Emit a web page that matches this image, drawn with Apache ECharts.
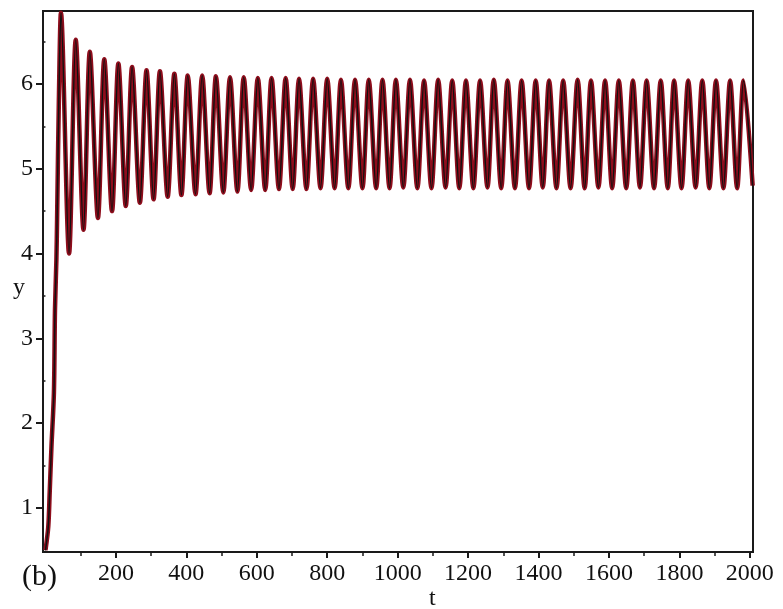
<!DOCTYPE html>
<html>
<head>
<meta charset="utf-8">
<script src="https://cdn.jsdelivr.net/npm/echarts@6/dist/echarts.min.js"></script>
<style>
html, body { margin: 0; padding: 0; background: #fff; }
#chart { width: 783px; height: 609px; }
</style>
</head>
<body>
<div id="chart"></div>
<script>
// start-up transient (t, y)
const riseT = [0, 8, 12, 17, 24, 27, 31, 33, 38];
const riseY = [0.5, 0.78, 1.18, 1.72, 2.36, 3.33, 3.92, 4.4, 5.8];

// peaks of the oscillation
const peakT = [44, 86, 126, 167, 207, 246, 287, 325, 366, 404, 445, 484, 524, 563, 603, 642, 682, 720, 760, 800,
	839, 879, 918, 957, 995, 1035, 1075, 1115, 1155, 1194, 1234, 1273, 1312, 1352, 1392, 1430, 1470, 1511, 1549, 1589,
	1628, 1668, 1707, 1747, 1785, 1825, 1865, 1904, 1944, 1982];
const peakY = [6.84, 6.52, 6.38, 6.29, 6.24, 6.2, 6.16, 6.15, 6.12, 6.1, 6.1, 6.09, 6.08, 6.08, 6.07, 6.07, 6.07, 6.06, 6.06, 6.06,
	6.05, 6.05, 6.05, 6.05, 6.05, 6.05, 6.04, 6.05, 6.04, 6.04, 6.04, 6.05, 6.04, 6.04, 6.04, 6.04, 6.04, 6.05, 6.04, 6.04,
	6.04, 6.04, 6.04, 6.04, 6.04, 6.04, 6.04, 6.04, 6.04, 6.04];

// troughs between peaks
const troughT = [67, 108, 149, 189, 228, 268, 307, 347, 386, 426, 466, 505, 545, 584, 624, 663, 702, 741, 781, 821,
	860, 900, 939, 977, 1016, 1056, 1096, 1136, 1175, 1215, 1255, 1294, 1333, 1373, 1412, 1451, 1491, 1531, 1570, 1609,
	1649, 1688, 1728, 1767, 1806, 1846, 1885, 1925, 1964];
const troughY = [4.0, 4.28, 4.42, 4.5, 4.56, 4.6, 4.64, 4.67, 4.69, 4.7, 4.71, 4.72, 4.73, 4.75, 4.75, 4.76, 4.76, 4.76, 4.77, 4.77,
	4.77, 4.77, 4.77, 4.77, 4.78, 4.77, 4.77, 4.78, 4.77, 4.77, 4.78, 4.77, 4.77, 4.77, 4.78, 4.77, 4.77, 4.77, 4.78, 4.77,
	4.77, 4.78, 4.77, 4.77, 4.77, 4.78, 4.77, 4.77, 4.77];

const endPoint = [2008, 4.8];

const xLabels = [200, 400, 600, 800, 1000, 1200, 1400, 1600, 1800, 2000];
const xMinor = [100, 300, 500, 700, 900, 1100, 1300, 1500, 1700, 1900];
const yLabels = [1, 2, 3, 4, 5, 6];
const yMinor = [1.5, 2.5, 3.5, 4.5, 5.5, 6.5];

const points = riseT.map((t, i) => [t, riseY[i]]);
peakT.forEach((t, i) => {
	points.push([t, peakY[i]]);
	if (i < troughT.length) points.push([troughT[i], troughY[i]]);
});
points.push(endPoint);

const serif = '"Liberation Serif", "Times New Roman", serif';
const ink = '#1a1a1a';
const X_MIN = -7, X_MAX = 2009, Y_MIN = 0.48, Y_MAX = 6.86;

const chart = echarts.init(document.getElementById('chart'));
chart.setOption({
	animation: false,
	backgroundColor: '#fff',
	grid: {
		left: 43,
		top: 11,
		right: 30,
		bottom: 57,
		show: true,
		borderColor: ink,
		borderWidth: 2
	},
	xAxis: [{
		type: 'value',
		min: X_MIN,
		max: X_MAX,
		splitLine: { show: false },
		axisLine: { onZero: false, lineStyle: { color: ink, width: 2 } },
		axisTick: { customValues: xLabels, length: 6, lineStyle: { color: ink, width: 2 } },
		axisLabel: {
			customValues: xLabels,
			formatter: (v) => String(v),
			margin: 10,
			color: '#111',
			fontFamily: serif,
			fontSize: 24
		}
	}, {
		type: 'value',
		min: X_MIN,
		max: X_MAX,
		position: 'bottom',
		splitLine: { show: false },
		axisLine: { show: false },
		axisTick: { customValues: xMinor, length: 4, lineStyle: { color: ink, width: 1.5 } },
		axisLabel: { show: false }
	}],
	yAxis: [{
		type: 'value',
		min: Y_MIN,
		max: Y_MAX,
		splitLine: { show: false },
		axisLine: { onZero: false, lineStyle: { color: ink, width: 2 } },
		axisTick: { customValues: yLabels, length: 7, lineStyle: { color: ink, width: 2 } },
		axisLabel: {
			customValues: yLabels,
			formatter: (v) => String(v),
			margin: 10,
			color: '#111',
			fontFamily: serif,
			fontSize: 24
		}
	}, {
		type: 'value',
		min: Y_MIN,
		max: Y_MAX,
		position: 'left',
		splitLine: { show: false },
		axisLine: { show: false },
		axisTick: { customValues: yMinor, length: 3, lineStyle: { color: ink, width: 1.5 } },
		axisLabel: { show: false }
	}],
	graphic: [
		{ type: 'text', left: 13, top: 276, style: { text: 'y', font: '24px ' + serif, fill: '#111' } },
		{ type: 'text', left: 429, top: 587, style: { text: 't', font: '24px ' + serif, fill: '#111' } },
		{ type: 'text', left: 22, top: 562, style: { text: '(b)', font: '30px ' + serif, fill: '#111' } }
	],
	series: [{
		name: 'red',
		type: 'line',
		showSymbol: false,
		symbol: 'none',
		smooth: 0.3,
		data: points,
		lineStyle: { color: '#8e0d1c', width: 4.5 },
		z: 2
	}, {
		name: 'black',
		type: 'line',
		showSymbol: false,
		symbol: 'none',
		smooth: 0.3,
		data: points,
		lineStyle: { color: '#111', width: 1.5 },
		z: 3
	}]
});
</script>
</body>
</html>
